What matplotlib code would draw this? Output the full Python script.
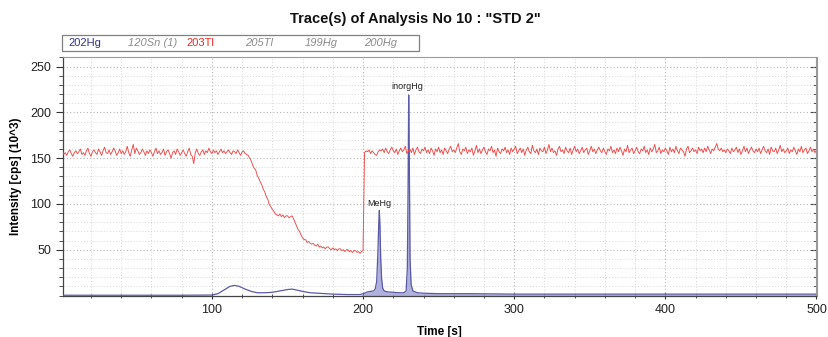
import numpy as np
import matplotlib
matplotlib.use("Agg")
import matplotlib.pyplot as plt
from matplotlib.patches import Rectangle
from matplotlib.ticker import MultipleLocator, FixedLocator

# ---------------- data ----------------
# 203Tl trace, sampled every 1 s (t = 1 .. 500)
tl_seg1 = [
    158,154,156,153,157,159,155,152,156,158,155,157,160,154,156,153,158,161,155,152,
    157,159,156,154,160,157,153,158,162,156,155,159,154,157,161,158,153,156,160,155,
    158,154,157,163,156,152,159,165,155,161,158,154,156,160,157,153,158,155,159,156,
    152,157,161,155,158,154,156,160,153,157,159,155,150,156,158,154,160,157,153,156,
    159,155,152,157,161,154,152,144,156,160,155,153,157,159,154,158,156,161,157,155,
    159,156,158,154,157,160,156,158,155,157,159,156,154,158,157,155,159,156,153,157,
    158,155,154]
tl_seg2 = [
    153,150,147,142,139,137,131,128,124,121,116,113,108,105,99,97,94,92,89,88,
    87,89,86,88,85,87,87,85,86,87,84,80,76,72,70,66,63,61,61,58,
    59,57,56,57,55,54,56,53,54,52,53,51,53,53,51,50,52,50,51,49,
    51,51,49,50,48,50,50,48,49,47,49,49,47,48,46,48,49]
tl_seg3 = [
    156,158,157,159,155,158,156,154,153,157,159,158,160,156,161,157,155,159,162,158,
    156,160,154,158,161,157,159,163,155,158,160,156,161,154,159,162,157,155,160,158,
    162,156,159,155,161,158,153,160,157,162,156,159,154,161,158,155,160,163,157,159,
    156,161,166,157,154,160,158,162,155,159,157,161,153,158,164,156,160,155,159,162,
    157,154,160,158,163,156,159,152,161,157,155,160,158,162,156,159,154,161,157,160,
    163,155,158,161,156,160,153,159,162,157,155,164,158,156,160,154,161,158,157,162,
    155,159,165,157,161,156,158,153,160,163,157,159,155,162,158,156,161,154,159,163,
    157,160,155,158,162,156,159,161,154,158,163,157,160,155,159,162,158,156,161,157,
    154,160,158,163,156,159,155,161,157,162,158,153,160,157,164,156,159,161,155,158,
    162,157,155,160,158,163,156,159,154,161,157,160,165,156,158,162,155,159,157,161,
    158,154,162,157,160,156,163,158,155,161,159,157,152,160,163,156,158,161,157,159,
    155,162,158,160,156,161,157,163,159,155,160,158,162,166,160,158,161,157,159,156,
    160,158,155,161,157,159,162,156,160,154,158,163,157,161,155,159,162,158,156,160,
    157,161,155,159,163,158,156,160,154,162,158,157,161,155,159,164,157,160,156,158,
    161,155,159,157,162,158,154,160,157,163,156,159,161,155,158,162,157,160,156,159]
tl_values = tl_seg1 + tl_seg2 + tl_seg3
tl_time = np.arange(1, len(tl_values) + 1)

# 202Hg trace
hg_time = [1, 20, 40, 60, 80, 100, 104, 108, 112, 115, 118, 122, 126, 130, 135, 140,
           145, 150, 153, 156, 160, 165, 170, 180, 190, 198, 201, 203, 205, 207, 208,
           209, 209.8, 210.4, 210.8, 211.2, 211.7, 212.3, 213, 214, 216, 220, 224, 227,
           228.5, 229.3, 229.8, 230.2, 230.6, 231.1, 231.8, 233, 236, 240, 250, 270,
           300, 350, 400, 450, 500]
hg_values = [0.3, 0.3, 0.3, 0.3, 0.3, 0.5, 2, 6, 10, 11, 10, 7, 4.5, 3, 3, 3.5,
             5, 6.5, 7, 6, 4.5, 3, 2.5, 1.5, 1, 1, 2.5, 4, 4.5, 5, 7,
             15, 45, 80, 93, 75, 40, 18, 8, 5, 4, 3.5, 3, 3,
             5, 30, 120, 219, 150, 40, 12, 5, 3, 2.5, 2, 2,
             1.5, 1.5, 1.5, 1.5, 1.5]
hg_fill_start = 200  # integrated region begins here

peak_labels = ["MeHg", "inorgHg"]
peak_label_pos = [(202.5, 101), (219, 228)]

legend_names = ["202Hg", "120Sn (1)", "203Tl", "205Tl", "199Hg", "200Hg"]
legend_colors = ["#333388", "#8c8c8c", "#ee2a2a", "#8c8c8c", "#8c8c8c", "#8c8c8c"]
legend_styles = ["normal", "italic", "normal", "italic", "italic", "italic"]
legend_x_px = [68, 128, 186, 245, 305, 364]

x_ticks = [100, 200, 300, 400, 500]
y_ticks = [50, 100, 150, 200, 250]

# ---------------- figure ----------------
W, H = 829, 337
fig = plt.figure(figsize=(W / 100, H / 100), dpi=100)
plt.rcParams['font.family'] = ['Liberation Sans', 'DejaVu Sans']

ax = fig.add_axes([63 / W, 1 - 295.5 / H, (816.5 - 63) / W, (295.5 - 56.5) / H])
ax.set_xlim(1.5, 500)
ax.set_ylim(0, 261)

hg_t = np.asarray(hg_time)
ax.fill_between(hg_time, 0, hg_values, where=hg_t >= hg_fill_start, interpolate=True,
                color="#a4a4d8", alpha=0.85, lw=0, zorder=2)
ax.plot(hg_time, hg_values, color="#5a5aa6", lw=0.9, zorder=3)
ax.plot(tl_time, tl_values, color="#f04848", lw=0.65, zorder=4)

for lab, (px, py) in zip(peak_labels, peak_label_pos):
    ax.text(px, py, lab, fontsize=6.5, color="#222222", va="center", ha="left", zorder=5)

ax.xaxis.set_major_locator(FixedLocator(x_ticks))
ax.xaxis.set_minor_locator(MultipleLocator(20))
ax.yaxis.set_major_locator(FixedLocator(y_ticks))
ax.yaxis.set_minor_locator(MultipleLocator(10))
ax.grid(which="major", color="#b4b4b4", linestyle=(0, (1, 2)), lw=0.8)
ax.grid(which="minor", color="#d6d6d6", linestyle=(0, (1, 2)), lw=0.7)
ax.tick_params(which="major", direction="out", length=5, width=0.8, labelsize=9,
               colors="#333333", labelcolor="#222222")
ax.tick_params(which="minor", direction="out", length=3, width=0.6, colors="#333333")
ax.tick_params(axis="x", which="both", direction="inout")
# inward ticks on the right-hand frame
ax_r = ax.secondary_yaxis("right")
ax_r.yaxis.set_major_locator(FixedLocator(y_ticks))
ax_r.yaxis.set_minor_locator(MultipleLocator(10))
ax_r.tick_params(which="major", direction="in", length=5, width=0.8, colors="#333333",
                 labelright=False)
ax_r.tick_params(which="minor", direction="in", length=3, width=0.6, colors="#333333")
ax_r.spines["right"].set_color("#9a9a9a")
for side in ["left", "bottom"]:
    ax.spines[side].set_color("#444444")
    ax.spines[side].set_linewidth(0.9)
for side in ["top", "right"]:
    ax.spines[side].set_color("#9a9a9a")
    ax.spines[side].set_linewidth(0.8)

ax.set_xlabel("Time [s]", fontsize=8.5, fontweight="bold", labelpad=7)
ax.set_ylabel("Intensity [cps] (10^3)", fontsize=8.5, fontweight="bold", labelpad=6)

fig.text(415 / W, 1 - 19 / H, 'Trace(s) of Analysis No 10 : "STD 2"', fontsize=10.5,
         fontweight="bold", ha="center", va="center", color="#111111")

# legend box
fig.add_artist(Rectangle((62 / W, 1 - 51 / H), (419 - 62) / W, 16 / H,
                         transform=fig.transFigure, fill=True, facecolor="white",
                         edgecolor="#808080", lw=0.9))
for name, col, sty, xp in zip(legend_names, legend_colors, legend_styles, legend_x_px):
    fig.text(xp / W, 1 - 43 / H, name, fontsize=8, color=col, style=sty,
             ha="left", va="center")

fig.savefig("out.png", dpi=100)
